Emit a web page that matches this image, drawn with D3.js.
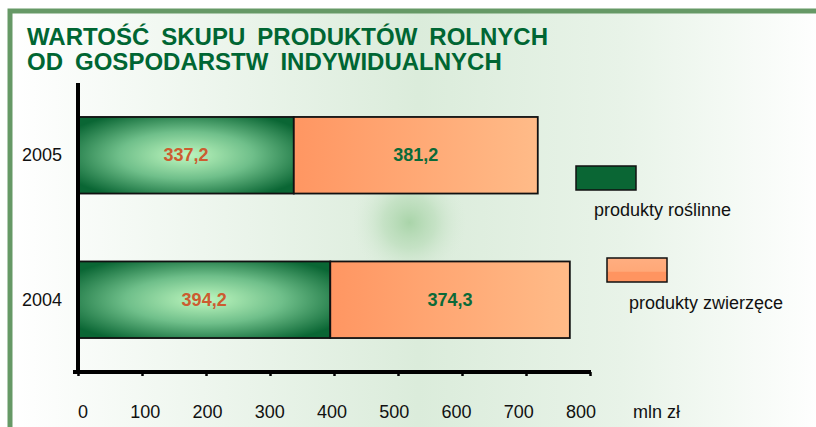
<!DOCTYPE html>
<html>
<head>
<meta charset="utf-8">
<script src="https://cdn.jsdelivr.net/npm/d3@7"></script>
<style>
  body { margin: 0; background: #fff; }
  text { font-family: "Liberation Sans", Arial, sans-serif; }
</style>
</head>
<body>
<svg width="816" height="427"></svg>
<script>
var years = ["2005", "2004"];
var plantValues = [337.2, 394.2];
var animalValues = [381.2, 374.3];
var seriesNames = ["produkty roślinne", "produkty zwierzęce"];
var tickValues = [0, 100, 200, 300, 400, 500, 600, 700, 800];
var titleLines = ["WARTOŚĆ SKUPU PRODUKTÓW ROLNYCH", "OD GOSPODARSTW INDYWIDUALNYCH"];
var unitLabel = "mln zł";

var svg = d3.select("svg"),
    width = +svg.attr("width"),
    height = +svg.attr("height");

var pl = d3.formatLocale({decimal: ",", thousands: " ", grouping: [3], currency: ["", " zł"]});
var fmt = pl.format(".1f");

var defs = svg.append("defs");

var bg = defs.append("linearGradient").attr("id", "bg");
bg.append("stop").attr("offset", "0").attr("stop-color", "#ffffff");
bg.append("stop").attr("offset", "0.5").attr("stop-color", "#dbecdb");
bg.append("stop").attr("offset", "0.75").attr("stop-color", "#e8f3e8");
bg.append("stop").attr("offset", "1").attr("stop-color", "#ffffff");

var glow = defs.append("radialGradient").attr("id", "glow");
glow.append("stop").attr("offset", "0").attr("stop-color", "#a9d4a9").attr("stop-opacity", 1);
glow.append("stop").attr("offset", "0.45").attr("stop-color", "#bfdfbf").attr("stop-opacity", 0.8);
glow.append("stop").attr("offset", "1").attr("stop-color", "#dbecdb").attr("stop-opacity", 0);

var green = defs.append("radialGradient").attr("id", "greenBar")
    .attr("cx", "0.5").attr("cy", "0.5").attr("r", "0.62");
green.append("stop").attr("offset", "0").attr("stop-color", "#bff7bf");
green.append("stop").attr("offset", "0.5").attr("stop-color", "#6fbf8a");
green.append("stop").attr("offset", "1").attr("stop-color", "#0a6634");

var orange = defs.append("linearGradient").attr("id", "orangeBar");
orange.append("stop").attr("offset", "0").attr("stop-color", "#ff9662");
orange.append("stop").attr("offset", "1").attr("stop-color", "#ffbb88");

var orangeKey = defs.append("linearGradient").attr("id", "orangeKey")
    .attr("x1", 0).attr("y1", 0).attr("x2", 0).attr("y2", 1);
orangeKey.append("stop").attr("offset", "0").attr("stop-color", "#ffae80");
orangeKey.append("stop").attr("offset", "0.55").attr("stop-color", "#ffa878");
orangeKey.append("stop").attr("offset", "0.6").attr("stop-color", "#ff9460");
orangeKey.append("stop").attr("offset", "1").attr("stop-color", "#ff9460");

// background and frame
svg.append("rect").attr("x", 10).attr("y", 11).attr("width", width).attr("height", height)
    .attr("fill", "url(#bg)");
svg.append("rect").attr("x", 352).attr("y", 165).attr("width", 115).attr("height", 115)
    .attr("fill", "url(#glow)");
svg.append("rect").attr("x", 10).attr("y", 11).attr("width", width + 20).attr("height", height + 20)
    .attr("fill", "none").attr("stroke", "#669966").attr("stroke-width", 5);

// title with widened gaps between words
var title = svg.append("g")
    .attr("fill", "#006633").attr("font-weight", "bold").attr("font-size", "24px");
title.selectAll("text").data(titleLines).enter().append("text")
    .attr("x", 27)
    .attr("y", function(d, i) { return 45 + i * 25; })
    .text(function(d) { return d; });
var w0 = title.select("text").node().getComputedTextLength();
title.selectAll("text").attr("word-spacing", Math.max(0, (521 - w0) / 3) + "px");

var x = d3.scaleLinear().domain([0, 800]).range([78, 590]);
var xLabel = d3.scaleLinear().domain([0, 800]).range([83, 581]);
var y = d3.scaleBand().domain(years).range([83, 372]).paddingInner(0.47).paddingOuter(0.235);

// bars
var rows = years.map(function(yr, i) { return {year: yr, plant: plantValues[i], animal: animalValues[i]}; });

var bars = svg.append("g").selectAll("g").data(rows).enter().append("g");
bars.append("rect")
    .attr("x", x(0))
    .attr("y", function(d) { return y(d.year); })
    .attr("width", function(d) { return x(d.plant) - x(0); })
    .attr("height", y.bandwidth())
    .attr("fill", "url(#greenBar)")
    .attr("stroke", "#111").attr("stroke-width", 1.8);
bars.append("rect")
    .attr("x", function(d) { return x(d.plant); })
    .attr("y", function(d) { return y(d.year); })
    .attr("width", function(d) { return x(d.plant + d.animal) - x(d.plant); })
    .attr("height", y.bandwidth())
    .attr("fill", "url(#orangeBar)")
    .attr("stroke", "#111").attr("stroke-width", 1.8);
bars.append("text")
    .attr("x", function(d) { return (x(0) + x(d.plant)) / 2; })
    .attr("y", function(d) { return y(d.year) + y.bandwidth() / 2 + 6; })
    .attr("text-anchor", "middle").attr("font-weight", "bold").attr("font-size", "18px")
    .attr("fill", "#cc5c30")
    .text(function(d) { return fmt(d.plant); });
bars.append("text")
    .attr("x", function(d) { return (x(d.plant) + x(d.plant + d.animal)) / 2; })
    .attr("y", function(d) { return y(d.year) + y.bandwidth() / 2 + 6; })
    .attr("text-anchor", "middle").attr("font-weight", "bold").attr("font-size", "18px")
    .attr("fill", "#0b6a38")
    .text(function(d) { return fmt(d.animal); });

// axes
var xAxis = svg.append("g")
    .attr("transform", "translate(0,372)")
    .call(d3.axisBottom(x).tickValues(tickValues).tickSizeInner(4).tickSizeOuter(0).tickFormat(""));
xAxis.select(".domain").remove();
xAxis.selectAll(".tick line").attr("stroke", "#000").attr("stroke-width", 2.5);

svg.append("line").attr("x1", 73).attr("x2", x(800) + 1).attr("y1", 372).attr("y2", 372)
    .attr("stroke", "#000").attr("stroke-width", 4);
svg.append("line").attr("x1", 78).attr("x2", 78).attr("y1", 83).attr("y2", 374)
    .attr("stroke", "#000").attr("stroke-width", 4);

svg.append("g").selectAll("text").data(tickValues).enter().append("text")
    .attr("x", function(d) { return xLabel(d); })
    .attr("y", 418)
    .attr("text-anchor", "middle").attr("font-size", "18px").attr("fill", "#111")
    .text(function(d) { return d; });
svg.append("text").attr("x", 633).attr("y", 418).attr("font-size", "18px").attr("fill", "#111")
    .text(unitLabel);

svg.append("g").selectAll("text").data(years).enter().append("text")
    .attr("x", 62)
    .attr("y", function(d) { return y(d) + y.bandwidth() / 2 + 6; })
    .attr("text-anchor", "end").attr("font-size", "18px").attr("fill", "#111")
    .text(function(d) { return d; });

// legend
var legend = [
  {name: seriesNames[0], fill: "#0a6634", rx: 576, ry: 166, tx: 594, ty: 216},
  {name: seriesNames[1], fill: "url(#orangeKey)", rx: 607, ry: 258, tx: 629, ty: 309}
];
var lg = svg.append("g").selectAll("g").data(legend).enter().append("g");
lg.append("rect")
    .attr("x", function(d) { return d.rx; }).attr("y", function(d) { return d.ry; })
    .attr("width", 60).attr("height", 24)
    .attr("fill", function(d) { return d.fill; })
    .attr("stroke", "#111").attr("stroke-width", 1.5);
lg.append("text")
    .attr("x", function(d) { return d.tx; }).attr("y", function(d) { return d.ty; })
    .attr("font-size", "18px").attr("fill", "#111")
    .text(function(d) { return d.name; });
</script>
</body>
</html>
